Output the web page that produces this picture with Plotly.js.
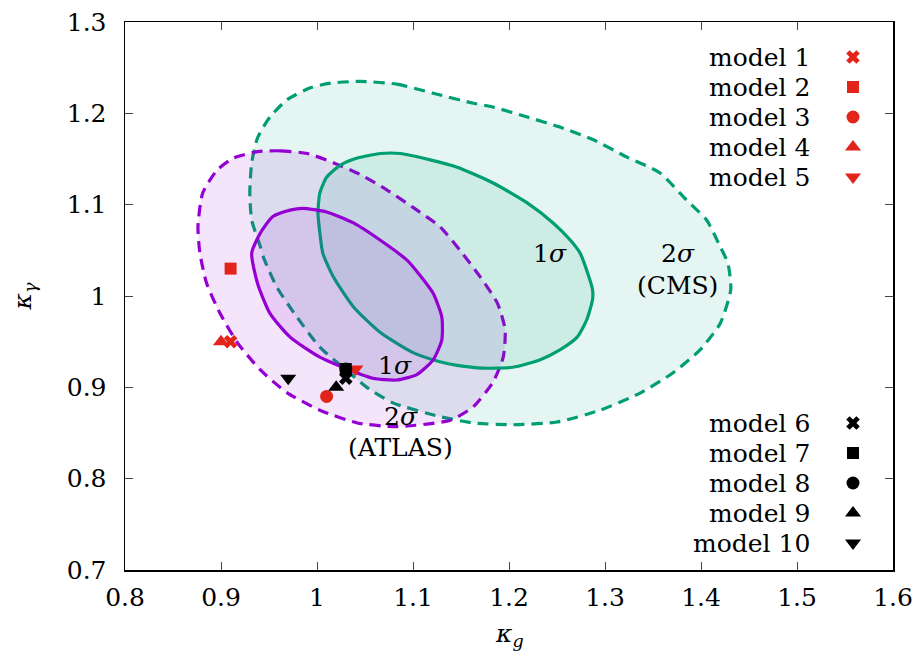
<!DOCTYPE html>
<html><head><meta charset="utf-8">
<script src="https://cdn.plot.ly/plotly-3.0.1.min.js"></script>
<style>html,body{margin:0;padding:0;background:#fff}#plot{width:916px;height:660px}</style>
</head><body><div id="plot"></div>
<script>
// CMS 2 sigma contour (kappa_g, kappa_gamma)
const cms2Kg = [1.045,1.083,1.121,1.163,1.183,1.219,1.253,1.288,1.323,1.357,1.385,1.406,1.420,1.428,1.431,1.420,1.399,1.371,1.337,1.295,1.250,1.204,1.163,1.128,1.079,1.052,1.027,1.003,0.979,0.958,0.944,0.941,0.932,0.930,0.932,0.938,0.951,0.969,0.993,1.014];
const cms2Kgam = [1.235,1.232,1.222,1.211,1.207,1.196,1.185,1.171,1.152,1.135,1.105,1.083,1.054,1.036,1.007,0.970,0.941,0.916,0.894,0.875,0.862,0.859,0.861,0.868,0.883,0.900,0.922,0.944,0.977,1.010,1.043,1.054,1.083,1.113,1.146,1.173,1.196,1.215,1.228,1.233];
// CMS 1 sigma contour
const cms1Kg = [1.001,1.003,1.010,1.024,1.042,1.066,1.087,1.118,1.146,1.183,1.219,1.246,1.264,1.274,1.282,1.287,1.287,1.281,1.271,1.253,1.232,1.204,1.173,1.146,1.128,1.100,1.066,1.038,1.017,1.006,1.003];
const cms1Kgam = [1.091,1.113,1.130,1.143,1.151,1.156,1.156,1.149,1.141,1.124,1.102,1.080,1.061,1.047,1.025,1.007,0.996,0.974,0.955,0.941,0.930,0.922,0.921,0.924,0.928,0.938,0.960,0.988,1.021,1.047,1.069];
// ATLAS 2 sigma contour
const atl2Kg = [0.938,0.962,0.990,1.017,1.045,1.073,1.100,1.128,1.149,1.170,1.188,1.196,1.194,1.183,1.163,1.139,1.083,1.042,1.003,0.969,0.941,0.917,0.899,0.885,0.878,0.876,0.881,0.896,0.913];
const atl2Kgam = [1.158,1.159,1.156,1.146,1.133,1.116,1.097,1.076,1.050,1.021,0.992,0.963,0.933,0.905,0.879,0.864,0.857,0.861,0.875,0.894,0.919,0.949,0.981,1.014,1.047,1.076,1.113,1.138,1.151];
// ATLAS 1 sigma contour
const atl1Kg = [0.985,1.010,1.038,1.066,1.094,1.107,1.121,1.130,1.130,1.121,1.104,1.083,1.058,1.034,1.003,0.972,0.951,0.938,0.932,0.941,0.954,0.972];
const atl1Kgam = [1.096,1.092,1.080,1.061,1.039,1.023,1.003,0.977,0.952,0.930,0.914,0.908,0.910,0.919,0.933,0.955,0.981,1.014,1.047,1.069,1.087,1.094];

// Models
const modelNames = ['model 1','model 2','model 3','model 4','model 5','model 6','model 7','model 8','model 9','model 10'];
const modelKg    = [0.91, 0.91, 1.01, 0.90, 1.04, 1.03, 1.03, 1.03, 1.02, 0.97];
const modelKgam  = [0.95, 1.03, 0.89, 0.95, 0.92, 0.91, 0.92, 0.92, 0.90, 0.91];

// Tick labels
const xTicks = [0.8,0.9,1,1.1,1.2,1.3,1.4,1.5,1.6];
const yTicks = [0.7,0.8,0.9,1,1.1,1.2,1.3];

const RED = '#e3241b', BLACK = '#000000';
const GREEN = '#009e73', PURPLE = '#9400d3';
const symbols = ['x','square','circle','triangle-up','triangle-down'];
const sizes = [12,12,13,14,14];
const FONT = 'DejaVu Serif';
const FS = 25;

function closed(a){ return a.concat([a[0]]); }

const traces = [];
function contour(xs, ys, color, fill, dash){
  traces.push({
    x: closed(xs), y: closed(ys), type:'scatter', mode:'lines',
    fill:'toself', fillcolor: fill,
    line:{color: color, width:3.2, dash: dash, shape:'spline', smoothing:0.6},
    hoverinfo:'skip', showlegend:false
  });
}
contour(cms2Kg, cms2Kgam, GREEN, 'rgba(0,158,115,0.10)', '11px,7px');
contour(atl2Kg, atl2Kgam, PURPLE, 'rgba(148,0,211,0.10)', '11px,7px');
contour(cms1Kg, cms1Kgam, GREEN, 'rgba(0,158,115,0.10)', 'solid');
contour(atl1Kg, atl1Kgam, PURPLE, 'rgba(148,0,211,0.10)', 'solid');

// draw order so model 8 is below model 7
const order = [0,1,2,3,4,5,7,6,8,9];
order.forEach(i => {
  traces.push({
    x:[modelKg[i]], y:[modelKgam[i]], type:'scatter', mode:'markers',
    marker:{symbol: symbols[i%5], size: sizes[i%5], color: i<5?RED:BLACK, line:{width:0}},
    showlegend:false, hoverinfo:'skip'
  });
});

// key (symbols right of text, as in the original), in an overlay pixel-like axis
const keyX = 853, keyTextX = 812;
const keyY1 = 57, keyY2 = 423, keyStep = 30;
const annotations = [];
modelNames.forEach((name, i) => {
  const row = i%5;
  const yy = (i<5?keyY1:keyY2) + row*keyStep;
  traces.push({
    x:[keyX], y:[yy], xaxis:'x2', yaxis:'y2', type:'scatter', mode:'markers',
    marker:{symbol: symbols[row], size: sizes[row], color: i<5?RED:BLACK, line:{width:0}},
    showlegend:false, hoverinfo:'skip'
  });
  annotations.push({xref:'x2', yref:'y2', x:keyTextX, y:yy, text:name, showarrow:false,
    xanchor:'right', yanchor:'middle', font:{family:FONT, size:FS, color:'#000'}});
});

// contour labels
const labels = [
  {x:1.243, y:1.047, t:'1<i>σ</i>'},
  {x:1.376, y:1.047, t:'2<i>σ</i>'},
  {x:1.376, y:1.012, t:'(CMS)'},
  {x:1.081, y:0.924, t:'1<i>σ</i>'},
  {x:1.087, y:0.868, t:'2<i>σ</i>'},
  {x:1.087, y:0.834, t:'(ATLAS)'}
];
labels.forEach(l => annotations.push({x:l.x, y:l.y, xref:'x', yref:'y', text:l.t, showarrow:false,
  font:{family:FONT, size:FS, color:'#000'}}));

// x-axis title placed below the tick labels
annotations.push({xref:'paper', yref:'paper', x:0.5, y:-0.085, yanchor:'top', showarrow:false,
  text:'<i>κ</i><sub><i>g</i></sub>', font:{family:FONT, size:FS, color:'#000'}});

const axisCommon = {
  showgrid:false, zeroline:false, showline:true, linecolor:'#000', linewidth:1.5,
  mirror:'ticks', ticks:'inside', ticklen:8, tickwidth:1, tickcolor:'#444',
  tickfont:{family:FONT, size:FS, color:'#000'}, automargin:false
};

const layout = {
  width:916, height:660,
  margin:{l:125, r:23, t:22, b:90},
  paper_bgcolor:'#fff', plot_bgcolor:'#fff',
  font:{family:FONT, size:FS, color:'#000'},
  xaxis: Object.assign({}, axisCommon, {
    range:[0.8,1.6], tickvals:xTicks, ticktext:xTicks.map(String), ticklabelstandoff:4
  }),
  yaxis: Object.assign({}, axisCommon, {
    range:[0.7,1.3], tickvals:yTicks, ticktext:yTicks.map(String), ticklabelstandoff:12,
    title:{text:'<i>κ</i><sub><i>γ</i></sub>', font:{family:FONT, size:FS, color:'#000'}, standoff:28}
  }),
  xaxis2:{overlaying:'x', range:[125,893], visible:false, fixedrange:true},
  yaxis2:{overlaying:'y', range:[570,22], visible:false, fixedrange:true},
  annotations: annotations,
  showlegend:false
};

Plotly.newPlot('plot', traces, layout, {staticPlot:true, displayModeBar:false});
</script>
</body></html>
